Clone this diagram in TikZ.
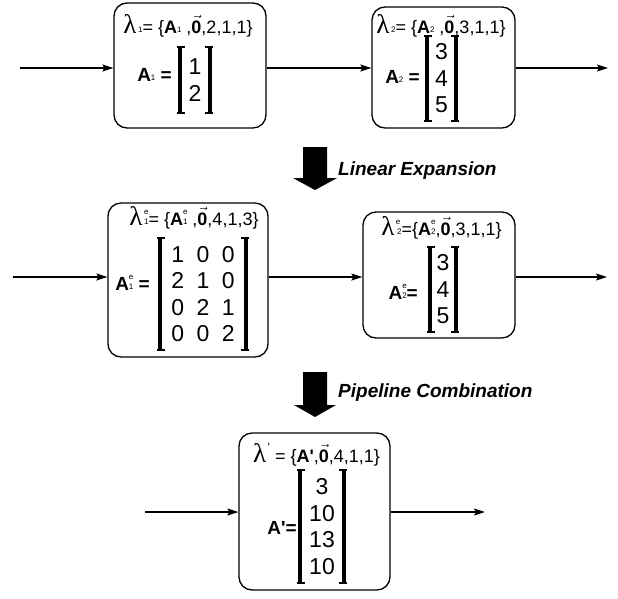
\documentclass[tikz,border=0pt]{standalone}
\usepackage{fontspec}
\setmainfont{Liberation Sans}
\newfontfamily\lamfont{Liberation Serif}
\usetikzlibrary{arrows.meta}

\newcommand{\lam}{{\lamfont\fontsize{27}{27}\selectfont λ}\kern1.5pt}
\newcommand{\lo}[1]{\raisebox{0.1ex}{\fontsize{8}{8}\selectfont\mdseries #1}}
\newcommand{\elo}[1]{\rlap{\raisebox{1.1ex}{\fontsize{8}{8}\selectfont\mdseries e}}\raisebox{0.1ex}{\fontsize{8}{8}\selectfont\mdseries #1}}
\newcommand{\pr}{\textquotesingle}
\newcommand{\vz}{$\vec{\hbox{\bfseries 0}}$}
\newcommand{\gap}{\hspace{12.5pt}}
\newcommand{\brackets}[1]{%
  \fill (#1.north west) rectangle ([xshift=4.5pt]#1.south west);
  \fill (#1.north east) rectangle ([xshift=-4.5pt]#1.south east);
  \draw[line width=2pt] ([xshift=7pt]#1.north west) -- ([xshift=-0.5pt]#1.north west)
    ([xshift=-0.5pt]#1.south west) -- ([xshift=7pt]#1.south west);
  \draw[line width=2pt] ([xshift=-7pt]#1.north east) -- ([xshift=0.5pt]#1.north east)
    ([xshift=0.5pt]#1.south east) -- ([xshift=-7pt]#1.south east);
}

\tikzset{
  blk/.style={draw, line width=1.3pt, rounded corners=13pt, inner sep=0pt},
  hdr/.style={anchor=base, inner sep=0pt, font=\fontsize{18}{18}\selectfont},
  lbl/.style={anchor=east, inner sep=0pt, font=\bfseries\fontsize{19}{19}\selectfont},
  mat/.style={inner sep=0pt, align=center, font=\fontsize{23}{26.5}\selectfont},
  tag/.style={anchor=west, inner sep=0pt, font=\bfseries\itshape\fontsize{19}{19}\selectfont},
  flow/.style={line width=1.1pt, -{Stealth[length=11pt,width=7pt,inset=2pt]}}
}

\begin{document}
\begin{tikzpicture}[x=1pt,y=-1pt]
\useasboundingbox (0,0) rectangle (618,598);

\node[blk, minimum width=152, minimum height=125] (lamA) at (190,65.5) {};
\node[blk, minimum width=143, minimum height=121] (lamB) at (443.5,67.5) {};
\node[blk, minimum width=160, minimum height=154] (lamAe) at (188,280) {};
\node[blk, minimum width=152, minimum height=126] (lamBe) at (439,275) {};
\node[blk, minimum width=151, minimum height=157] (lamC) at (314.5,511.5) {};

\node[hdr] (hA) at (188,33) {\lam\lo{1}= \{\textbf{A}\lo{1} ,\vz,2,1,1\}};
\node[hdr] (hB) at (441,33) {\lam\lo{2}= \{\textbf{A}\lo{2} ,\vz,3,1,1\}};
\node[hdr] (hAe) at (194,225) {\lam\elo{1}= \{\textbf{A}\elo{1} ,\vz,4,1,3\}};
\node[hdr] (hBe) at (441.5,235) {\lam\elo{\,2}=\{\textbf{A}\elo{2},\vz,3,1,1\}};
\node[hdr] (hC) at (316.5,462) {\lam\raisebox{1.1ex}{\fontsize{12}{12}\selectfont\pr} = \{\textbf{A\pr},\vz,4,1,1\}};

\node[lbl] (aA) at (172,75) {A\lo{1} =};
\node[lbl] (aB) at (420,77) {A\lo{2} =};
\node[lbl] (aAe) at (150,283) {A\elo{1} =};
\node[lbl] (aBe) at (418,292) {A\elo{2}=};
\node[lbl] (aC) at (297,528) {A\pr=};

\node[mat, minimum width=34, minimum height=66] (mA) at (195,80) {1\\2};
\node[mat, minimum width=33, minimum height=85] (mB) at (441.5,78.5) {3\\4\\5};
\node[mat, minimum width=90, minimum height=112] (mAe) at (203,294) {1\gap0\gap0\\2\gap1\gap0\\0\gap2\gap1\\0\gap0\gap2};
\node[mat, minimum width=30, minimum height=85] (mBe) at (443,289.5) {3\\4\\5};
\node[mat, minimum width=48, minimum height=113] (mC) at (322,526.5) {3\\10\\13\\10};

\brackets{mA}
\brackets{mB}
\brackets{mAe}
\brackets{mBe}
\brackets{mC}

\coordinate (inA) at (20,68);
\coordinate (outB) at (608,68);
\coordinate (inAe) at (13,277);
\coordinate (outBe) at (607,277);
\coordinate (inC) at (145,512);
\coordinate (outC) at (485,512);

\draw[flow] (inA) -- (inA -| lamA.west);
\draw[flow] (lamA.east |- inA) -- (lamB.west |- inA);
\draw[flow] (lamB.east |- outB) -- (outB);
\draw[flow] (inAe) -- (inAe -| lamAe.west);
\draw[flow] (lamAe.east |- inAe) -- (lamBe.west |- inAe);
\draw[flow] (lamBe.east |- outBe) -- (outBe);
\draw[flow] (inC) -- (inC -| lamC.west);
\draw[flow] (lamC.east |- outC) -- (outC);

\fill (303,147) -- (327,147) -- (327,178) -- (337,178) -- (315,190) -- (293,178) -- (303,178) -- cycle;
\node[tag] (linexp) at (338,171) {Linear Expansion};

\fill (303,372) -- (327,372) -- (327,405) -- (336,405) -- (315,417) -- (294,405) -- (303,405) -- cycle;
\node[tag] (pipecomb) at (338,393) {Pipeline Combination};

\end{tikzpicture}
\end{document}
